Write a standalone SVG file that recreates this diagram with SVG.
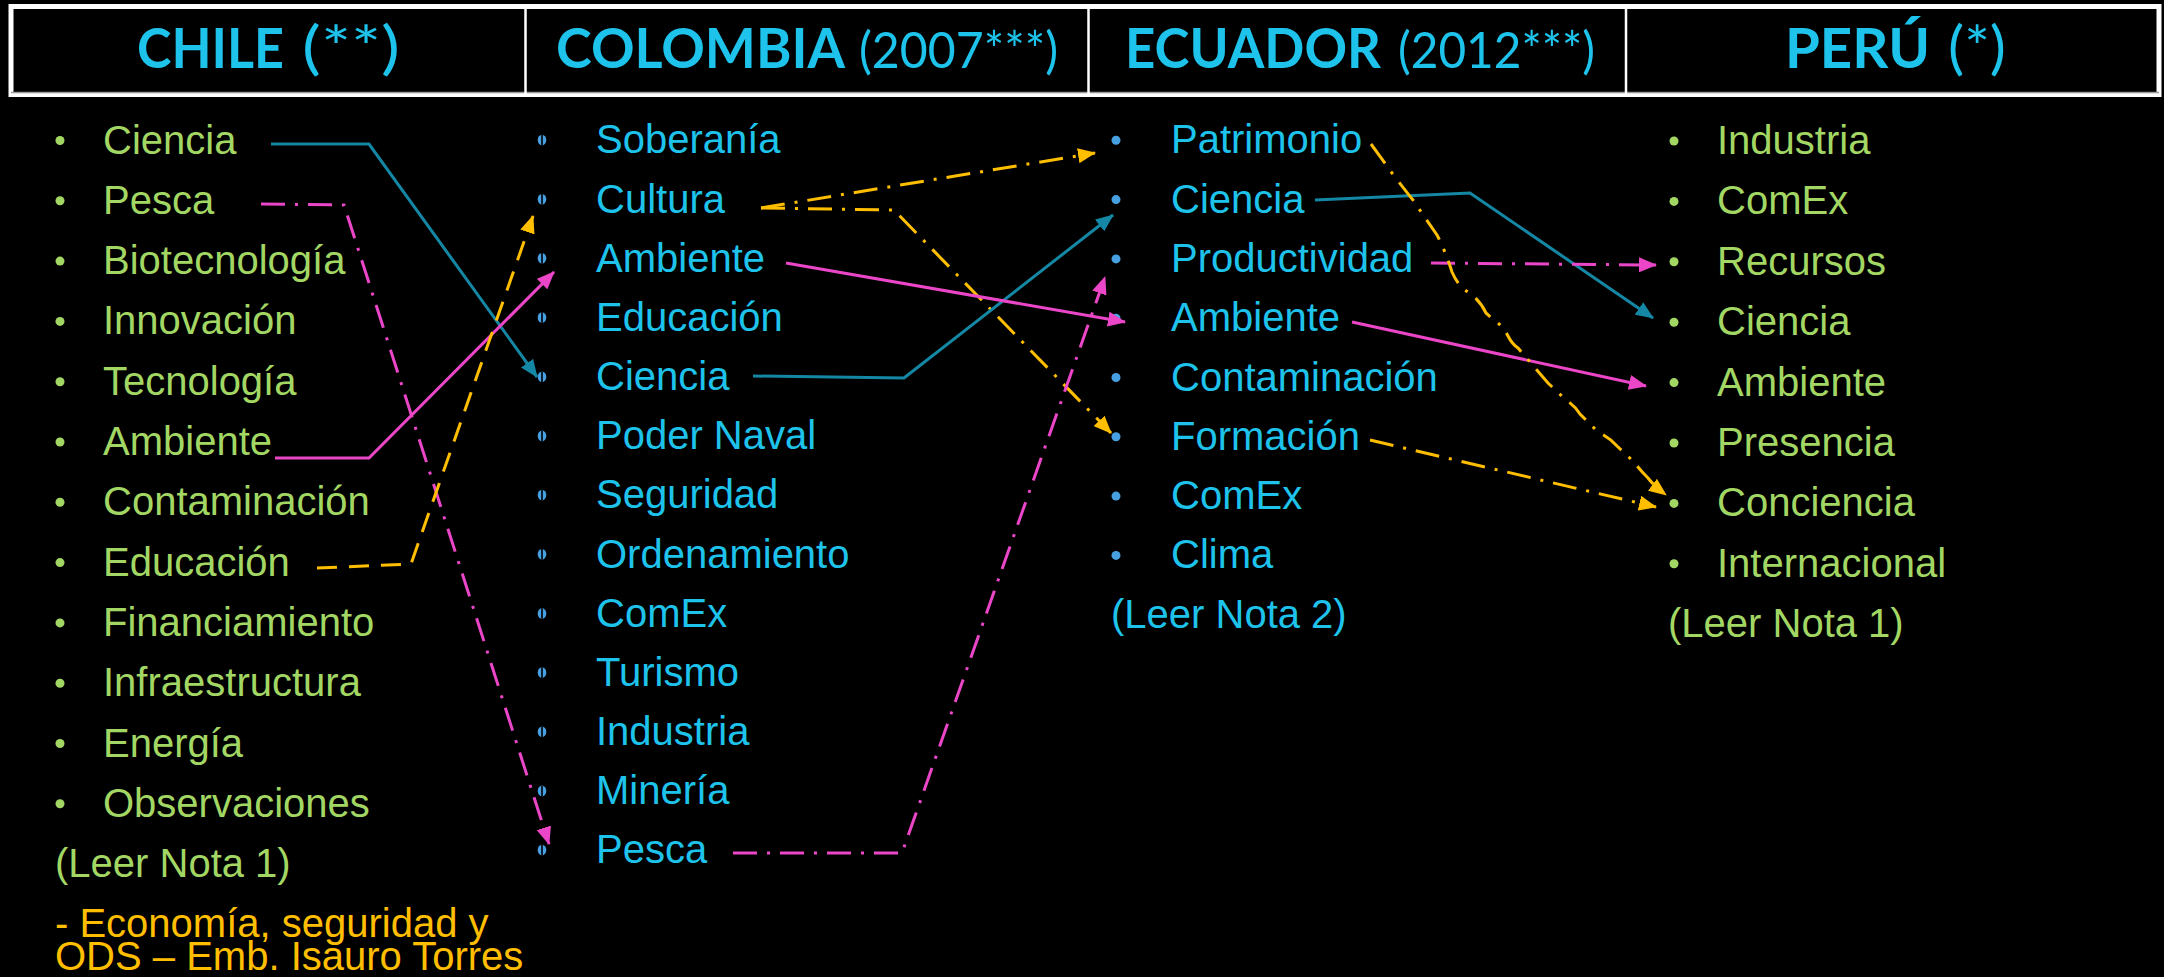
<svg xmlns="http://www.w3.org/2000/svg" xmlns:xlink="http://www.w3.org/1999/xlink" width="2164" height="977" viewBox="0 0 2164 977">
<defs>
<style>
.t{font-family:"Liberation Sans",Arial,sans-serif;font-size:40px}
.gr{fill:#A3D764}
.cy{fill:#1EC3EC}
.ye{fill:#FFBE00}
.hb{font-family:Lato,"Open Sans",sans-serif;font-weight:700;font-size:56px;fill:#1EC3EC}
.hr{font-family:Lato,"Open Sans",sans-serif;font-weight:400;fill:#1EC3EC}
.bg{fill:#A3D764}
.bb{fill:#46A0E1}
.ln{fill:none;stroke-width:3}
.teal{stroke:#1487A5}
.mag{stroke:#EB46C8}
.yel{stroke:#FFBE00}
.dd{stroke-dasharray:24 10 3 10}
.da{stroke-dasharray:20 12}
</style>
<marker id="mT" viewBox="0 0 18 15" refX="17" refY="7.5" markerWidth="18" markerHeight="15" markerUnits="userSpaceOnUse" orient="auto"><path d="M0,0 L18,7.5 L0,15 Z" fill="#1487A5"/></marker>
<marker id="mM" viewBox="0 0 18 15" refX="17" refY="7.5" markerWidth="18" markerHeight="15" markerUnits="userSpaceOnUse" orient="auto"><path d="M0,0 L18,7.5 L0,15 Z" fill="#EB46C8"/></marker>
<marker id="mY" viewBox="0 0 18 15" refX="17" refY="7.5" markerWidth="18" markerHeight="15" markerUnits="userSpaceOnUse" orient="auto"><path d="M0,0 L18,7.5 L0,15 Z" fill="#FFBE00"/></marker>
<g id="cb"><ellipse cx="0" cy="0" rx="4.3" ry="5.3" fill="#46A0E1"/><rect x="-0.8" y="-5.3" width="1.6" height="10.6" fill="#000"/></g>
</defs>
<rect width="2164" height="977" fill="#000"/>

<g id="header-table">
<rect x="11" y="6.5" width="2148" height="88" fill="#000" stroke="#fff" stroke-width="5"/>
<line x1="11" y1="92.5" x2="2159" y2="92.5" stroke="#999" stroke-width="1.5"/>
<line x1="525.5" y1="8" x2="525.5" y2="97" stroke="#fff" stroke-width="2.5"/>
<line x1="1088.5" y1="8" x2="1088.5" y2="97" stroke="#fff" stroke-width="2.5"/>
<line x1="1626" y1="8" x2="1626" y2="97" stroke="#fff" stroke-width="2.5"/>
</g>
<g id="hdr-chile">
<text class="hb" x="137" y="68" textLength="147" lengthAdjust="spacingAndGlyphs">CHILE</text>
<text class="hr" x="302" y="68" font-size="58" textLength="98" lengthAdjust="spacingAndGlyphs">(**)</text>
</g>
<g id="hdr-colombia">
<text class="hb" x="556" y="68" textLength="289" lengthAdjust="spacingAndGlyphs">COLOMBIA</text>
<text class="hr" x="859" y="68" font-size="50" textLength="199" lengthAdjust="spacingAndGlyphs">(2007***)</text>
</g>
<g id="hdr-ecuador">
<text class="hb" x="1125" y="68" textLength="256" lengthAdjust="spacingAndGlyphs">ECUADOR</text>
<text class="hr" x="1398" y="68" font-size="50" textLength="197" lengthAdjust="spacingAndGlyphs">(2012***)</text>
</g>
<g id="hdr-peru">
<text class="hb" x="1785" y="68" textLength="145" lengthAdjust="spacingAndGlyphs">PERÚ</text>
<text class="hr" x="1948" y="68" font-size="58" textLength="58" lengthAdjust="spacingAndGlyphs">(*)</text>
</g>

<g id="chile">
<g id="cl-ciencia"><circle class="bg" cx="60" cy="140.5" r="4.5"/><text class="t gr" x="103" y="153.5">Ciencia</text></g>
<g id="cl-pesca"><circle class="bg" cx="60" cy="200.8" r="4.5"/><text class="t gr" x="103" y="213.8">Pesca</text></g>
<g id="cl-biotecnologia"><circle class="bg" cx="60" cy="261.1" r="4.5"/><text class="t gr" x="103" y="274.1">Biotecnología</text></g>
<g id="cl-innovacion"><circle class="bg" cx="60" cy="321.4" r="4.5"/><text class="t gr" x="103" y="334.4">Innovación</text></g>
<g id="cl-tecnologia"><circle class="bg" cx="60" cy="381.7" r="4.5"/><text class="t gr" x="103" y="394.7">Tecnología</text></g>
<g id="cl-ambiente"><circle class="bg" cx="60" cy="442" r="4.5"/><text class="t gr" x="103" y="455">Ambiente</text></g>
<g id="cl-contaminacion"><circle class="bg" cx="60" cy="502.3" r="4.5"/><text class="t gr" x="103" y="515.3">Contaminación</text></g>
<g id="cl-educacion"><circle class="bg" cx="60" cy="562.6" r="4.5"/><text class="t gr" x="103" y="575.6">Educación</text></g>
<g id="cl-financiamiento"><circle class="bg" cx="60" cy="622.9" r="4.5"/><text class="t gr" x="103" y="635.9">Financiamiento</text></g>
<g id="cl-infraestructura"><circle class="bg" cx="60" cy="683.2" r="4.5"/><text class="t gr" x="103" y="696.2">Infraestructura</text></g>
<g id="cl-energia"><circle class="bg" cx="60" cy="743.5" r="4.5"/><text class="t gr" x="103" y="756.5">Energía</text></g>
<g id="cl-observaciones"><circle class="bg" cx="60" cy="803.8" r="4.5"/><text class="t gr" x="103" y="816.8">Observaciones</text></g>
<g id="cl-nota"><text class="t gr" x="55" y="877.1">(Leer Nota 1)</text></g>
<g id="cl-economia"><text class="t ye" x="55" y="937">- Economía, seguridad y</text><text class="t ye" x="55" y="970">ODS – Emb. Isauro Torres</text></g>
</g>

<g id="colombia">
<g id="co-soberania"><use xlink:href="#cb" x="542" y="140"/><text class="t cy" x="596" y="153.3">Soberanía</text></g>
<g id="co-cultura"><use xlink:href="#cb" x="542" y="199.2"/><text class="t cy" x="596" y="212.5">Cultura</text></g>
<g id="co-ambiente"><use xlink:href="#cb" x="542" y="258.3"/><text class="t cy" x="596" y="271.6">Ambiente</text></g>
<g id="co-educacion"><use xlink:href="#cb" x="542" y="317.5"/><text class="t cy" x="596" y="330.8">Educación</text></g>
<g id="co-ciencia"><use xlink:href="#cb" x="542" y="376.7"/><text class="t cy" x="596" y="390">Ciencia</text></g>
<g id="co-podernaval"><use xlink:href="#cb" x="542" y="435.9"/><text class="t cy" x="596" y="449.2">Poder Naval</text></g>
<g id="co-seguridad"><use xlink:href="#cb" x="542" y="495"/><text class="t cy" x="596" y="508.3">Seguridad</text></g>
<g id="co-ordenamiento"><use xlink:href="#cb" x="542" y="554.2"/><text class="t cy" x="596" y="567.5">Ordenamiento</text></g>
<g id="co-comex"><use xlink:href="#cb" x="542" y="613.4"/><text class="t cy" x="596" y="626.7">ComEx</text></g>
<g id="co-turismo"><use xlink:href="#cb" x="542" y="672.5"/><text class="t cy" x="596" y="685.8">Turismo</text></g>
<g id="co-industria"><use xlink:href="#cb" x="542" y="731.7"/><text class="t cy" x="596" y="745">Industria</text></g>
<g id="co-mineria"><use xlink:href="#cb" x="542" y="790.9"/><text class="t cy" x="596" y="804.2">Minería</text></g>
<g id="co-pesca"><use xlink:href="#cb" x="542" y="850"/><text class="t cy" x="596" y="863.3">Pesca</text></g>
</g>

<g id="ecuador">
<g id="ec-patrimonio"><circle class="bb" cx="1116" cy="140.3" r="4.5"/><text class="t cy" x="1171" y="153.3">Patrimonio</text></g>
<g id="ec-ciencia"><circle class="bb" cx="1116" cy="199.6" r="4.5"/><text class="t cy" x="1171" y="212.6">Ciencia</text></g>
<g id="ec-productividad"><circle class="bb" cx="1116" cy="258.9" r="4.5"/><text class="t cy" x="1171" y="271.9">Productividad</text></g>
<g id="ec-ambiente"><circle class="bb" cx="1116" cy="318.2" r="4.5"/><text class="t cy" x="1171" y="331.2">Ambiente</text></g>
<g id="ec-contaminacion"><circle class="bb" cx="1116" cy="377.5" r="4.5"/><text class="t cy" x="1171" y="390.5">Contaminación</text></g>
<g id="ec-formacion"><circle class="bb" cx="1116" cy="436.8" r="4.5"/><text class="t cy" x="1171" y="449.8">Formación</text></g>
<g id="ec-comex"><circle class="bb" cx="1116" cy="496.1" r="4.5"/><text class="t cy" x="1171" y="509.1">ComEx</text></g>
<g id="ec-clima"><circle class="bb" cx="1116" cy="555.4" r="4.5"/><text class="t cy" x="1171" y="568.4">Clima</text></g>
<g id="ec-nota"><text class="t cy" x="1111" y="627.7">(Leer Nota 2)</text></g>
</g>

<g id="peru">
<g id="pe-industria"><circle class="bg" cx="1674" cy="141" r="4.5"/><text class="t gr" x="1717" y="154">Industria</text></g>
<g id="pe-comex"><circle class="bg" cx="1674" cy="201.4" r="4.5"/><text class="t gr" x="1717" y="214.4">ComEx</text></g>
<g id="pe-recursos"><circle class="bg" cx="1674" cy="261.8" r="4.5"/><text class="t gr" x="1717" y="274.8">Recursos</text></g>
<g id="pe-ciencia"><circle class="bg" cx="1674" cy="322.2" r="4.5"/><text class="t gr" x="1717" y="335.2">Ciencia</text></g>
<g id="pe-ambiente"><circle class="bg" cx="1674" cy="382.6" r="4.5"/><text class="t gr" x="1717" y="395.6">Ambiente</text></g>
<g id="pe-presencia"><circle class="bg" cx="1674" cy="443" r="4.5"/><text class="t gr" x="1717" y="456">Presencia</text></g>
<g id="pe-conciencia"><circle class="bg" cx="1674" cy="503.4" r="4.5"/><text class="t gr" x="1717" y="516.4">Conciencia</text></g>
<g id="pe-internacional"><circle class="bg" cx="1674" cy="563.8" r="4.5"/><text class="t gr" x="1717" y="576.8">Internacional</text></g>
<g id="pe-nota"><text class="t gr" x="1668" y="637.2">(Leer Nota 1)</text></g>
</g>

<g id="connectors">
<path class="ln teal" d="M271,144 H369 L537,377" marker-end="url(#mT)"/>
<path class="ln mag dd" d="M261,204 L344,205 L549,844" marker-end="url(#mM)"/>
<path class="ln mag" d="M275,458 H369 L554,272" marker-end="url(#mM)"/>
<path class="ln yel da" d="M317,568 L411,564 L533,216" marker-end="url(#mY)"/>
<path class="ln yel dd" d="M761,208 L1095,153" marker-end="url(#mY)"/>
<path class="ln yel dd" d="M761,208 L894,210 L1111,433" marker-end="url(#mY)"/>
<path class="ln teal" d="M753,376 L904,378 L1113,215" marker-end="url(#mT)"/>
<path class="ln mag" d="M786,263 L1125,322" marker-end="url(#mM)"/>
<path class="ln mag dd" d="M733,853 L902,853 L1105,277" marker-end="url(#mM)"/>
<path class="ln teal" d="M1315,200 L1470,193 L1653,318" marker-end="url(#mT)"/>
<path class="ln mag dd" d="M1431,263 L1656,265" marker-end="url(#mM)"/>
<path class="ln mag" d="M1352,322 L1646,386" marker-end="url(#mM)"/>
<path class="ln yel dd" d="M1370,440 L1656,507" marker-end="url(#mY)"/>
<path class="ln yel dd" d="M1371,144 L1392,173 Q1405,190 1413,200 L1437,235 Q1445,250 1452,272 Q1458,286 1468,292 Q1480,300 1486,313 L1494,320 Q1503,326 1508,336 Q1512,344 1518,348 L1548,383 L1566,400 Q1575,406 1580,414 L1598,432 Q1610,438 1617,446 L1634,462 Q1640,470 1648,478 Q1654,486 1666,495" marker-end="url(#mY)"/>
</g>
</svg>
